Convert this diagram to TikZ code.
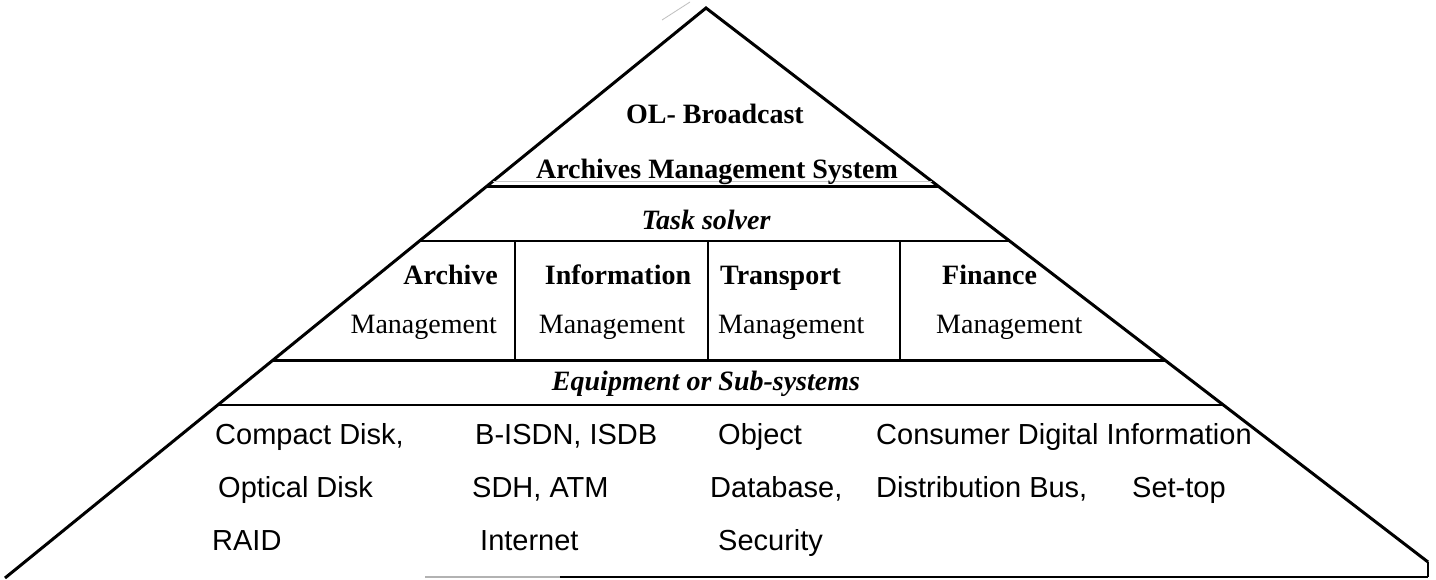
\documentclass[tikz,border=0pt]{standalone}
\usepackage{fontspec}
\setmainfont{Liberation Serif}
\newfontfamily\arialfam{Liberation Sans}
\begin{document}
\begin{tikzpicture}[x=1pt,y=-1pt,
  edge/.style={line width=3pt, line join=miter},
  thickrule/.style={line width=3pt},
  thinrule/.style={line width=1.5pt},
  divider/.style={line width=1.3pt},
  serifb/.style={font=\fontsize{28}{32}\selectfont\bfseries, inner sep=0pt},
  serifr/.style={font=\fontsize{28}{32}\selectfont, inner sep=0pt},
  serifbi/.style={font=\fontsize{28}{32}\selectfont\bfseries\itshape, inner sep=0pt},
  sanstext/.style={font=\arialfam\fontsize{29}{32}\selectfont, inner sep=0pt, anchor=base west}]
\useasboundingbox (0,0) rectangle (1436,579);
\fill[white] (0,0) rectangle (1436,579);

% outline
\coordinate (apex) at (706,8);
\coordinate (bl) at (5,578);
\coordinate (br) at (1428,562);
\coordinate (brb) at (1428,577);
\coordinate (bs) at (425,577);
\coordinate (bm) at (560,577);
\draw[edge] (bl) -- (apex) -- (br);
\draw[line width=2.5pt] (br) -- (brb);
\draw[line width=2pt, gray!60] (bs) -- (bm);
\draw[line width=2pt] (bm) -- (brb);
\coordinate (scanA) at (662,20);
\coordinate (scanB) at (690,2);
\draw[gray!50, line width=0.8pt] (scanA) -- (scanB);

% horizontal rules
\coordinate (h1l) at (487,186); \coordinate (h1r) at (938,186);
\coordinate (h0l) at (493,181); \coordinate (h0r) at (932,181);
\coordinate (h2l) at (419,241); \coordinate (h2r) at (1009,241);
\coordinate (h3l) at (273,360); \coordinate (h3r) at (1165,360);
\coordinate (h4l) at (218,405); \coordinate (h4r) at (1223,405);
\draw[gray!45, line width=1pt] (h0l) -- (h0r);
\draw[thickrule] (h1l) -- (h1r);
\draw[thinrule] (h2l) -- (h2r);
\draw[thickrule] (h3l) -- (h3r);
\draw[line width=2pt] (h4l) -- (h4r);

% dividers
\coordinate (d1t) at (515,241); \coordinate (d1b) at (515,360);
\coordinate (d2t) at (708,241); \coordinate (d2b) at (708,360);
\coordinate (d3t) at (900,241); \coordinate (d3b) at (900,360);
\draw[divider] (d1t) -- (d1b);
\draw[divider] (d2t) -- (d2b);
\draw[divider] (d3t) -- (d3b);

% top texts
\node[serifb, anchor=base] (ol) at (715,123) {OL- Broadcast};
\node[serifb, anchor=base] (ams) at (717,178) {Archives Management System};
\node[serifbi, anchor=base] (task) at (706,229) {Task solver};

% task columns
\node[serifb, anchor=base east] (arch) at (498,284) {Archive};
\node[serifr, anchor=base east] (m1) at (497,333) {Management};
\node[serifb, anchor=base] (info) at (618,284) {Information};
\node[serifr, anchor=base] (m2) at (612,333) {Management};
\node[serifb, anchor=base west] (trans) at (720,284) {Transport};
\node[serifr, anchor=base west] (m3) at (718,333) {Management};
\node[serifb, anchor=base west] (fin) at (942,284) {Finance};
\node[serifr, anchor=base west] (m4) at (936,333) {Management};

% equipment
\node[serifbi, anchor=base] (equip) at (706,390) {Equipment or Sub-systems};

\node[sanstext] (c11) at (215,444) {Compact Disk,};
\node[sanstext] (c12) at (218,497) {Optical Disk};
\node[sanstext] (c13) at (212,550) {RAID};
\node[sanstext] (c21) at (475,444) {B-ISDN, ISDB};
\node[sanstext] (c22) at (472,497) {SDH, ATM};
\node[sanstext] (c23) at (480,550) {Internet};
\node[sanstext] (c31) at (718,444) {Object};
\node[sanstext] (c32) at (710,497) {Database,};
\node[sanstext] (c33) at (718,550) {Security};
\node[sanstext] (c41) at (876,444) {Consumer Digital Information};
\node[sanstext] (c42) at (876,497) {Distribution Bus,};
\node[sanstext] (c43) at (1132,497) {Set-top};
\end{tikzpicture}
\end{document}
